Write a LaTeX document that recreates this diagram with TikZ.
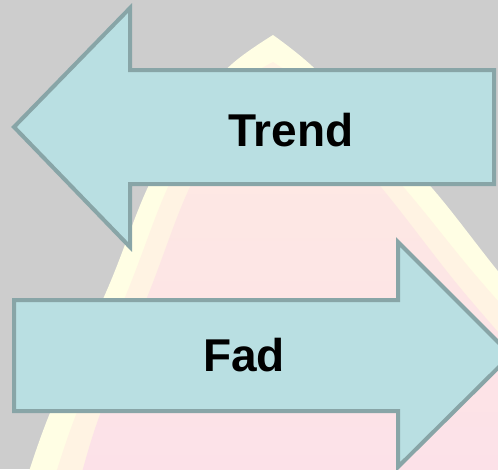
\documentclass[tikz,border=0pt]{standalone}
\usepackage{fontspec}
\setmainfont{Liberation Sans}

\definecolor{bggray}{HTML}{CDCDCD}
\definecolor{bellyellow}{HTML}{FFFEE4}
\definecolor{bellpeach}{HTML}{FFF3E3}
\definecolor{belltop}{HTML}{FEEAE2}
\definecolor{bellpink}{HTML}{FCE0E9}
\definecolor{arrowfill}{HTML}{B9DFE2}
\definecolor{arrowline}{HTML}{88A5A7}

\tikzset{
  blockarrow/.style={fill=arrowfill,draw=arrowline,line width=4pt,line join=miter},
  arrowtext/.style={font=\bfseries\fontsize{46}{50}\selectfont,text=black,inner sep=0pt}
}

\begin{document}
\begin{tikzpicture}[x=1pt,y=-1pt]
% trend vs fad: two block arrows over a faded bell

\clip (0,0) rectangle (498,469);
\fill[bggray] (0,0) rectangle (498,469);

% faded bell in the back, pointed at the top
\fill[bellyellow] plot[smooth,tension=0.6] coordinates {(20,500) (50,413) (107,290) (148,187) (192,108) (232,64) (273,35)}
  -- plot[smooth,tension=0.6] coordinates {(273,35) (312,66) (372,126) (432,188) (497,270) (570,360)}
  -- (620,520) -- (0,520) -- cycle;
\fill[bellpeach] plot[smooth,tension=0.6] coordinates {(48,500) (74,420) (128,290) (168,187) (212,105) (273,62)}
  -- plot[smooth,tension=0.6] coordinates {(273,62) (330,105) (406,190) (478,278) (560,370)}
  -- (620,520) -- (0,520) -- cycle;
\shade[top color=belltop,bottom color=bellpink] plot[smooth,tension=0.6] coordinates {(75,500) (98,420) (150,290) (190,187) (236,110) (273,85)}
  -- plot[smooth,tension=0.6] coordinates {(273,85) (318,115) (385,192) (462,290) (545,385)}
  -- (620,520) -- (0,520) -- cycle;

% arrow pointing left
\coordinate (Ttip) at (14,127);
\coordinate (Ttop) at (130,8);
\coordinate (Tbot) at (130,247);
\draw[blockarrow] (Ttip) -- (Ttop) -- (130,70) -- (494,70) -- (494,184) -- (130,184) -- (Tbot) -- cycle;

% arrow pointing right
\coordinate (Ftip) at (511,355);
\coordinate (Ftop) at (398,242);
\coordinate (Fbot) at (398,467);
\draw[blockarrow] (Ftip) -- (Ftop) -- (398,300) -- (14,300) -- (14,411) -- (398,411) -- (Fbot) -- cycle;

% labels
\node[arrowtext] (trend) at (291,130) {Trend};
\node[arrowtext] (fad) at (244,355) {Fad};

\end{tikzpicture}
\end{document}
